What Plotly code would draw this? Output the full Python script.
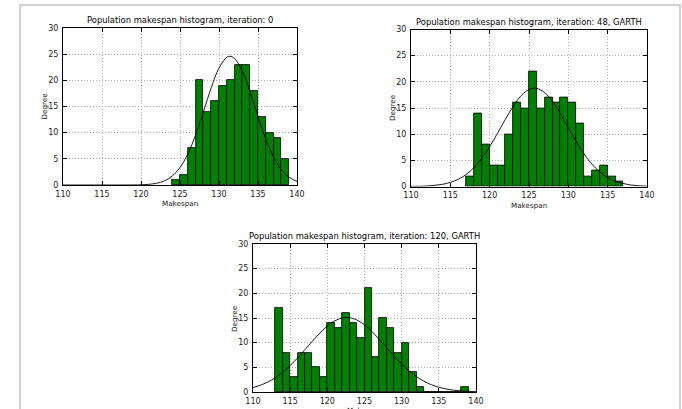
import plotly.graph_objects as go

W, H = 682, 409

# ---------------- data ----------------
titles = [
    "Population makespan histogram, iteration: 0",
    "Population makespan histogram, iteration: 48, GARTH",
    "Population makespan histogram, iteration: 120, GARTH",
]

bins0 = list(range(124, 139))
counts0 = [1, 2, 7, 20, 14, 16, 19, 20, 23, 23, 18, 13, 10, 9, 5]

bins48 = list(range(117, 137))
counts48 = [2, 14, 8, 4, 4, 10, 16, 15, 22, 15, 17, 16, 17, 16, 12, 2, 3, 4, 2, 1]

bins120 = list(range(113, 139))
counts120 = [17, 8, 3, 8, 8, 5, 3, 14, 13, 16, 14, 11, 21, 7, 15, 13, 8, 10, 4, 1,
             0, 0, 0, 0, 0, 1]

# fitted normal curves
curve0_x = [110, 115, 118, 120, 121, 122, 123, 124, 125, 126, 127, 128, 129, 130,
            131, 131.4, 132, 133, 134, 135, 136, 137, 138, 139, 140]
curve0_y = [0.0, 0.0, 0.004, 0.04, 0.13, 0.33, 0.78, 1.70, 3.33, 5.92, 9.56, 13.99,
            18.57, 22.35, 24.41, 24.6, 24.17, 21.71, 17.69, 13.06, 8.76, 5.33, 2.93,
            1.47, 0.67]

curve48_x = [110, 112, 114, 115, 116, 117, 118, 119, 120, 121, 122, 123, 124, 125,
             125.7, 126, 127, 128, 129, 130, 131, 132, 133, 134, 135, 136, 138, 140]
curve48_y = [0.02, 0.10, 0.42, 0.78, 1.37, 2.29, 3.61, 5.40, 7.61, 10.17, 12.85,
             15.35, 17.35, 18.55, 18.8, 18.75, 17.94, 16.23, 13.89, 11.24, 8.61, 6.23,
             4.27, 2.77, 1.70, 0.98, 0.28, 0.06]

curve120_x = [110, 112, 114, 116, 118, 120, 121, 122, 122.6, 123, 124, 125, 126,
              128, 130, 132, 134, 136, 138, 140]
curve120_y = [0.88, 2.01, 4.01, 6.91, 10.33, 13.38, 14.42, 15.00, 15.1, 15.06, 14.58,
              13.62, 12.27, 8.95, 5.66, 3.10, 1.47, 0.60, 0.21, 0.07]

x_ticks = [110, 115, 120, 125, 130, 135, 140]
y_ticks = [0, 5, 10, 15, 20, 25, 30]
x_label = "Makespan"
y_label = "Degree"

# ---------------- layout (pixel boxes: left, right, top, bottom) ----------------
boxes = [(63, 297, 28, 185), (411, 647, 29.5, 186.5), (253, 476, 244, 392)]
panels = [(bins0, counts0, curve0_x, curve0_y),
          (bins48, counts48, curve48_x, curve48_y),
          (bins120, counts120, curve120_x, curve120_y)]

FONT = "DejaVu Sans"
fig = go.Figure()
annotations = []
layout = {}

for i, ((bins, counts, cx, cy), (l, r, t, b), title) in enumerate(zip(panels, boxes, titles), start=1):
    xa = "x" if i == 1 else f"x{i}"
    ya = "y" if i == 1 else f"y{i}"
    fig.add_trace(go.Bar(
        x=bins, y=counts, width=1, offset=0,
        marker=dict(color="#008000", line=dict(color="black", width=0.8)),
        xaxis=xa, yaxis=ya, showlegend=False, hoverinfo="x+y"))
    fig.add_trace(go.Scatter(
        x=cx, y=cy, mode="lines", line=dict(color="black", width=0.9, shape="spline"),
        xaxis=xa, yaxis=ya, showlegend=False))

    axcommon = dict(
        showline=True, linecolor="black", linewidth=1, mirror="allticks",
        ticks="inside", ticklen=4, tickcolor="black", tickwidth=0.8,
        showgrid=True, gridcolor="#b4b4b4", griddash="1px,2px", gridwidth=0.8,
        zeroline=False, automargin=False,
        tickfont=dict(family=FONT, size=8, color="#222"),
    )
    layout["xaxis" if i == 1 else f"xaxis{i}"] = dict(
        axcommon, domain=[l / W, r / W], range=[110, 140], tickvals=x_ticks,
        anchor=ya, ticklabelstandoff=1)
    layout["yaxis" if i == 1 else f"yaxis{i}"] = dict(
        axcommon, domain=[1 - b / H, 1 - t / H], range=[0, 30], tickvals=y_ticks,
        anchor=xa, ticklabelstandoff=2)

    annotations.append(dict(text=title, x=(l + r) / 2 / W, y=1 - (t - 1) / H,
                            xref="paper", yref="paper", xanchor="center", yanchor="bottom",
                            showarrow=False, font=dict(family=FONT, size=8.4, color="black")))
    annotations.append(dict(text=x_label, x=(l + r) / 2 / W, y=1 - (b + 12) / H,
                            xref="paper", yref="paper", xanchor="center", yanchor="top",
                            showarrow=False, font=dict(family=FONT, size=7.2, color="#222")))
    annotations.append(dict(text=y_label, x=(l - 19) / W, y=1 - (t + b) / 2 / H,
                            xref="paper", yref="paper", xanchor="center", yanchor="middle",
                            textangle=-90, showarrow=False,
                            font=dict(family=FONT, size=7.2, color="#222")))

fig.update_layout(
    width=W, height=H, margin=dict(l=0, r=0, t=0, b=0, pad=0, autoexpand=False),
    paper_bgcolor="white", plot_bgcolor="white", bargap=0,
    annotations=annotations,
    shapes=[dict(type="rect", xref="paper", yref="paper",
                 x0=20 / W, x1=680 / W, y0=-0.1, y1=1 - 5 / H,
                 line=dict(color="#c4c4c4", width=1.5), layer="below")],
    **layout,
)

fig.write_html("out.html", config={"displayModeBar": False},
               post_script="document.body.style.margin='0';document.body.style.overflow='hidden';")
